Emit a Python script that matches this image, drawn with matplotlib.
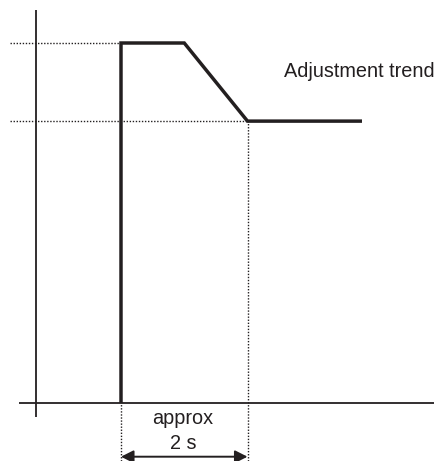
import matplotlib
matplotlib.use('Agg')
import matplotlib.pyplot as plt

# Curva de ajuste (tempo em s, nivel relativo)
tempo = [0.0, 0.0, 1.0, 2.0, 3.81]
nivel = [0.0, 1.0, 1.0, 0.783, 0.783]
duracao_s = 2.0
rotulo_curva = 'Adjustment trend'
rotulo_tempo = ['approx', '2 s']

# escala: pixels por segundo e por unidade de nivel
PX_S = 63.25
PX_N = 360.0
X0, Y0 = 121.0, 403.0
W, H = 434, 461


def tx(px):
    return (px - X0) / PX_S


def ty(py):
    return (Y0 - py) / PX_N


plt.rcParams['font.family'] = ['Liberation Sans', 'DejaVu Sans']

fig = plt.figure(figsize=(W / 100, H / 100), dpi=100)
ax = fig.add_axes([0, 0, 1, 1])
ax.axis('off')
ax.set_xlim(tx(0), tx(W))
ax.set_ylim(ty(H), ty(0))

preto = '#231f20'
alto = nivel[1]
baixo = nivel[-1]

# eixos desenhados a mao
ax.plot([tx(35.5), tx(35.5)], [ty(417), ty(9.5)], color=preto, lw=1.3, solid_capstyle='butt')
ax.plot([tx(19), tx(W + 5)], [0, 0], color=preto, lw=1.3, solid_capstyle='butt')

# linhas pontilhadas de referencia
pont = dict(color=preto, lw=1.0, linestyle=(0, (1.0, 1.2)))
ax.plot([tx(10), tempo[1]], [alto, alto], **pont)
ax.plot([tx(10), duracao_s], [baixo, baixo], **pont)
ax.plot([tempo[0], tempo[0]], [ty(H), 0], **pont)
ax.plot([duracao_s, duracao_s], [ty(H), baixo], **pont)

# curva principal
ax.plot(tempo, nivel, color=preto, lw=2.5, solid_joinstyle='miter', solid_capstyle='butt')

# seta da duracao
y_seta = ty(456.7)
ax.annotate('', xy=(duracao_s, y_seta), xytext=(tempo[0], y_seta),
            arrowprops=dict(arrowstyle='<|-|>,head_length=0.75,head_width=0.38',
                            mutation_scale=10, color=preto, lw=1.4,
                            shrinkA=0, shrinkB=0))

ax.text(tx(284), ty(76.7), rotulo_curva, fontsize=14.3, color=preto, ha='left', va='baseline')
ax.text(tx(182.5), ty(424), rotulo_tempo[0], fontsize=14.3, color=preto, ha='center', va='baseline')
ax.text(tx(182.8), ty(449), rotulo_tempo[1], fontsize=14.3, color=preto, ha='center', va='baseline')

plt.savefig('out.png', dpi=100)
plt.close()
